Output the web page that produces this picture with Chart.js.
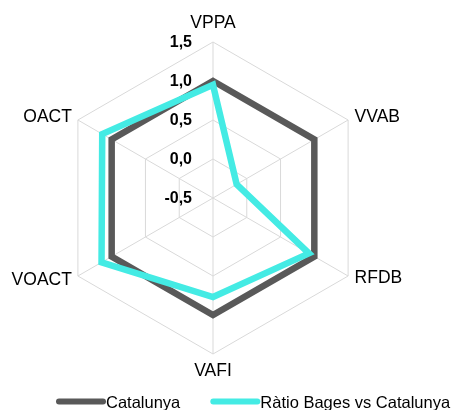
<!DOCTYPE html>
<html>
<head>
<meta charset="utf-8">
<script src="https://cdn.jsdelivr.net/npm/chart.js@4/dist/chart.umd.min.js"></script>
<style>
  html, body { margin: 0; padding: 0; background: #fff; }
  #wrap { position: relative; width: 453px; height: 410px; overflow: hidden; }
</style>
</head>
<body>
<div id="wrap"><canvas id="radar" width="453" height="410"></canvas></div>
<script>
// eixos del radar
const eixos = ['VPPA', 'VVAB', 'RFDB', 'VAFI', 'VOACT', 'OACT'];
// sèries
const nomCatalunya = 'Catalunya';
const valorsCatalunya = [1.0, 1.0, 1.0, 1.0, 1.0, 1.0];
const nomBages = 'Ràtio Bages vs Catalunya';
const valorsBages = [0.95, -0.15, 0.92, 0.77, 1.15, 1.14];
// escala
const escalaMin = -0.5;
const escalaMax = 1.5;
const escalaPas = 0.5;

const colorCatalunya = '#595959';
const colorBages = '#44ebe4';
const fontBase = '"Liberation Sans", Arial, sans-serif';

// etiquetes dels eixos, valors de l'escala i llegenda dibuixats a mà
const etiquetesPlugin = {
  id: 'etiquetes',
  afterDraw(chart) {
    const ctx = chart.ctx;
    const scale = chart.scales.r;
    ctx.save();

    // valors de l'escala (a l'esquerra de l'eix vertical)
    ctx.font = 'bold 16px ' + fontBase;
    ctx.fillStyle = '#000';
    ctx.textAlign = 'right';
    ctx.textBaseline = 'middle';
    scale.ticks.forEach(t => {
      const d = scale.getDistanceFromCenterForValue(t.value);
      ctx.fillText(t.value.toFixed(1).replace('.', ','), scale.xCenter - 21, scale.yCenter - d + 1);
    });

    // noms dels eixos
    ctx.font = '17.5px ' + fontBase;
    const desplaca = [
      { dx: 0, dy: -18.5, align: 'center' },
      { dx: 6.5, dy: -3, align: 'left' },
      { dx: 6.5, dy: 2.5, align: 'left' },
      { dx: 0, dy: 17.5, align: 'center' },
      { dx: -6, dy: 4, align: 'right' },
      { dx: -6, dy: -3, align: 'right' }
    ];
    chart.data.labels.forEach((nom, i) => {
      const p = scale.getPointPosition(i, scale.drawingArea);
      const o = desplaca[i];
      ctx.textAlign = o.align;
      ctx.fillText(nom, p.x + o.dx, p.y + o.dy);
    });

    // llegenda
    ctx.font = '16.5px ' + fontBase;
    const ordre = [0, 1];
    let x = 56;
    const y = 401.5;
    ctx.textAlign = 'left';
    ordre.forEach(i => {
      const ds = chart.data.datasets[i];
      ctx.strokeStyle = ds.borderColor;
      ctx.lineWidth = 6;
      ctx.lineCap = 'round';
      ctx.beginPath();
      ctx.moveTo(x + 3, y);
      ctx.lineTo(x + 47, y);
      ctx.stroke();
      ctx.fillStyle = '#000';
      ctx.fillText(ds.label, x + 50, y + 2);
      x += 50 + ctx.measureText(ds.label).width + 30;
    });
    ctx.restore();
  }
};

new Chart(document.getElementById('radar'), {
  type: 'radar',
  data: {
    labels: eixos,
    datasets: [
      {
        label: nomCatalunya,
        data: valorsCatalunya,
        borderColor: colorCatalunya,
        backgroundColor: 'transparent',
        borderWidth: 6.5,
        pointRadius: 0,
        fill: false,
        order: 1
      },
      {
        label: nomBages,
        data: valorsBages,
        borderColor: colorBages,
        backgroundColor: 'transparent',
        borderWidth: 6.5,
        pointRadius: 0,
        fill: false,
        order: 0
      }
    ]
  },
  options: {
    responsive: false,
    animation: false,
    layout: { padding: { left: 57, right: 83, top: 42, bottom: 55 } },
    elements: { line: { tension: 0, borderJoinStyle: 'miter' } },
    plugins: {
      legend: { display: false },
      tooltip: { enabled: false }
    },
    scales: {
      r: {
        min: escalaMin,
        max: escalaMax,
        ticks: { display: false, stepSize: escalaPas },
        pointLabels: { display: false },
        grid: { color: '#d9d9d9', lineWidth: 1 },
        angleLines: { color: '#d9d9d9', lineWidth: 1 }
      }
    }
  },
  plugins: [etiquetesPlugin]
});
</script>
</body>
</html>
